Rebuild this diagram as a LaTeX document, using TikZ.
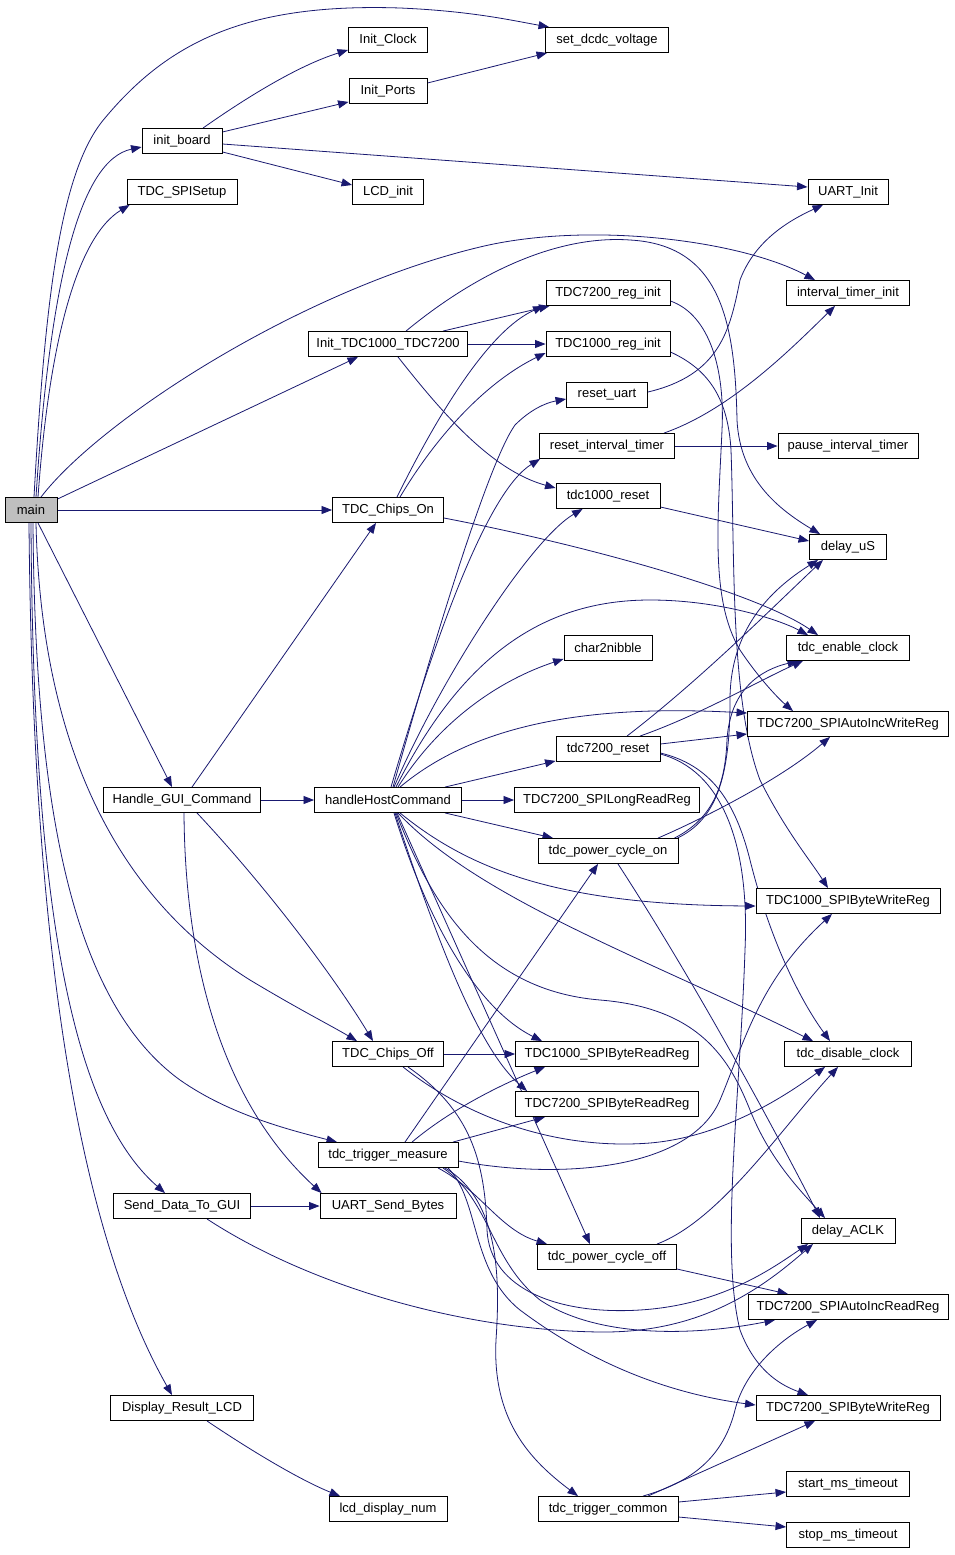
\documentclass[tikz,border=0pt]{standalone}
\usepackage{fontspec}
\setmainfont{Liberation Sans}
\usetikzlibrary{arrows.meta,calc}
\definecolor{edgec}{HTML}{191970}
\definecolor{mgray}{HTML}{BFBFBF}
\pgfdeclarelayer{bg}
\pgfsetlayers{bg,main}
\begin{document}
\begin{tikzpicture}[x=1pt,y=-1pt,
  box/.style={draw=black,fill=white,line width=0.9pt,minimum height=25pt,inner sep=0pt,font=\fontsize{13}{15}\selectfont},
  e/.style={draw=edgec,line width=0.8pt,-{Triangle[length=10.5pt,width=8pt]}}]
\useasboundingbox (0,0) rectangle (955,1555);
\node[box,minimum width=52pt,fill=mgray] (mainfn) at (31,510) {main};
\node[box,minimum width=80pt] (initboard) at (182,141) {init\_board};
\node[box,minimum width=110pt] (spisetup) at (182,192) {TDC\_SPISetup};
\node[box,minimum width=79pt] (initclock) at (388,40) {Init\_Clock};
\node[box,minimum width=78pt] (initports) at (388,91) {Init\_Ports};
\node[box,minimum width=71pt] (lcdinit) at (388,192) {LCD\_init};
\node[box,minimum width=123pt] (dcdc) at (607,40) {set\_dcdc\_voltage};
\node[box,minimum width=80pt] (uartinit) at (848,192) {UART\_Init};
\node[box,minimum width=123pt] (itinit) at (848,293) {interval\_timer\_init};
\node[box,minimum width=159pt] (inittdc) at (388,344) {Init\_TDC1000\_TDC7200};
\node[box,minimum width=124pt] (r7200init) at (608,293) {TDC7200\_reg\_init};
\node[box,minimum width=124pt] (r1000init) at (608,344) {TDC1000\_reg\_init};
\node[box,minimum width=81pt] (resetuart) at (607,395) {reset\_uart};
\node[box,minimum width=135pt] (resetit) at (607,446) {reset\_interval\_timer};
\node[box,minimum width=140pt] (pauseit) at (848,446) {pause\_interval\_timer};
\node[box,minimum width=104pt] (t1000reset) at (608,496) {tdc1000\_reset};
\node[box,minimum width=111pt] (chipson) at (388,510) {TDC\_Chips\_On};
\node[box,minimum width=77pt] (delayus) at (848,547) {delay\_uS};
\node[box,minimum width=88pt] (char2nibble) at (608,648) {char2nibble};
\node[box,minimum width=123pt] (enclk) at (848,648) {tdc\_enable\_clock};
\node[box,minimum width=201pt] (aiwr) at (848,724) {TDC7200\_SPIAutoIncWriteReg};
\node[box,minimum width=104pt] (t7200reset) at (608,749) {tdc7200\_reset};
\node[box,minimum width=157pt] (hgui) at (182,800) {Handle\_GUI\_Command};
\node[box,minimum width=147pt] (hhc) at (388,800) {handleHostCommand};
\node[box,minimum width=185pt] (lrr) at (607,800) {TDC7200\_SPILongReadReg};
\node[box,minimum width=140pt] (pcon) at (608,851) {tdc\_power\_cycle\_on};
\node[box,minimum width=184pt] (bwr1000) at (848,901) {TDC1000\_SPIByteWriteReg};
\node[box,minimum width=111pt] (chipsoff) at (388,1054) {TDC\_Chips\_Off};
\node[box,minimum width=183pt] (brr1000) at (607,1054) {TDC1000\_SPIByteReadReg};
\node[box,minimum width=127pt] (disclk) at (848,1054) {tdc\_disable\_clock};
\node[box,minimum width=183pt] (brr7200) at (607,1104) {TDC7200\_SPIByteReadReg};
\node[box,minimum width=140pt] (trigmeas) at (388,1155) {tdc\_trigger\_measure};
\node[box,minimum width=137pt] (senddata) at (182,1206) {Send\_Data\_To\_GUI};
\node[box,minimum width=136pt] (uartsend) at (388,1206) {UART\_Send\_Bytes};
\node[box,minimum width=94pt] (delayaclk) at (848,1231) {delay\_ACLK};
\node[box,minimum width=139pt] (pcoff) at (607,1257) {tdc\_power\_cycle\_off};
\node[box,minimum width=200pt] (airr) at (848,1307) {TDC7200\_SPIAutoIncReadReg};
\node[box,minimum width=184pt] (bwr7200) at (848,1408) {TDC7200\_SPIByteWriteReg};
\node[box,minimum width=143pt] (display) at (182,1408) {Display\_Result\_LCD};
\node[box,minimum width=118pt] (lcdnum) at (388,1509) {lcd\_display\_num};
\node[box,minimum width=123pt] (startms) at (848,1484) {start\_ms\_timeout};
\node[box,minimum width=123pt] (stopms) at (848,1535) {stop\_ms\_timeout};
\node[box,minimum width=140pt] (trigcommon) at (608,1509) {tdc\_trigger\_common};
\begin{pgfonlayer}{bg}
\fill[white] (0,0) rectangle (955,1555);
% main
\draw[e] ($(mainfn.north)+(3,0)$) .. controls (45,300) and (60,170) .. (105,118) .. controls (170,40) and (250,3) .. (400,8) .. controls (470,11) and (510,20) .. ($(dcdc.north west)+(4,0)$);
\draw[e] ($(mainfn.north)+(5,0)$) .. controls (50,280) and (80,160) .. ($(initboard.west)+(0,6)$);
\draw[e] ($(mainfn.north)+(7,0)$) .. controls (50,330) and (80,235) .. ($(spisetup.south west)+(3,0)$);
\draw[e] ($(mainfn.north)+(10,0)$) .. controls (100,420) and (300,290) .. (480,247) .. controls (588,221) and (740,240) .. ($(itinit.north)+(-33,0)$);
\draw[e] ($(mainfn.north east)+(0,2)$) -- ($(inittdc.south)+(-30,0)$);
\draw[e] (mainfn.east) -- (chipson.west);
\draw[e] ($(mainfn.south)+(7,0)$) -- ($(hgui.north)+(-10,0)$);
\draw[e] ($(mainfn.south)+(5,0)$) .. controls (40,700) and (90,880) .. (250,980) .. controls (300,1010) and (330,1025) .. ($(chipsoff.north)+(-31,0)$);
\draw[e] ($(mainfn.south)+(2,0)$) .. controls (35,800) and (70,1000) .. (180,1080) .. controls (230,1115) and (290,1130) .. ($(trigmeas.north)+(-51,0)$);
\draw[e] (mainfn.south) .. controls (33,900) and (70,1110) .. ($(senddata.north)+(-17,0)$);
\draw[e] ($(mainfn.south)+(-2,0)$) .. controls (33,1000) and (90,1250) .. ($(display.north)+(-10,0)$);
% init_board
\draw[e] ($(initboard.north)+(21,0)$) .. controls (250,95) and (300,65) .. ($(initclock.south west)+(0,-3)$);
\draw[e] ($(initboard.east)+(0,-9)$) -- ($(initports.south west)+(0,-2)$);
\draw[e] ($(initboard.east)+(0,3)$) -- ($(uartinit.west)+(0,-5)$);
\draw[e] ($(initboard.south east)+(0,-2)$) -- ($(lcdinit.west)+(0,-7)$);
\draw[e] ($(initports.east)+(0,-8)$) -- ($(dcdc.south west)+(2,0)$);
% Init_TDC1000_TDC7200
\draw[e] ($(inittdc.north)+(55,0)$) -- ($(r7200init.south west)+(4,0)$);
\draw[e] (inittdc.east) -- (r1000init.west);
\draw[e] ($(inittdc.south)+(10,0)$) .. controls (440,410) and (490,470) .. ($(t1000reset.west)+(0,-8)$);
\draw[e] ($(inittdc.north)+(18,0)$) .. controls (480,270) and (560,235) .. (630,240) .. controls (720,245) and (735,320) .. (737,420) .. controls (740,480) and (780,510) .. ($(delayus.north)+(-28,0)$);
% reg init
\draw[e] ($(r7200init.east)+(0,8)$) .. controls (710,315) and (725,370) .. (722,430) .. controls (718,520) and (710,600) .. (740,650) .. controls (760,680) and (780,700) .. ($(aiwr.north)+(-55,0)$);
\draw[e] ($(r1000init.east)+(0,8)$) .. controls (710,370) and (728,400) .. (731,450) .. controls (735,560) and (730,700) .. (760,780) .. controls (785,830) and (810,860) .. ($(bwr1000.north)+(-20,0)$);
% reset_uart, reset_interval_timer, tdc1000_reset
\draw[e] ($(resetuart.east)+(0,-3)$) .. controls (720,375) and (730,330) .. (740,280) .. controls (755,240) and (790,220) .. ($(uartinit.south)+(-25,0)$);
\draw[e] ($(resetit.north)+(57,0)$) .. controls (730,410) and (790,350) .. ($(itinit.south)+(-13,0)$);
\draw[e] (resetit.east) -- (pauseit.west);
\draw[e] ($(t1000reset.east)+(0,11)$) -- ($(delayus.west)+(0,-6)$);
% TDC_Chips_On
\draw[e] ($(chipson.north)+(9,0)$) .. controls (440,410) and (490,330) .. ($(r7200init.south west)+(-2,0)$);
\draw[e] ($(chipson.north)+(12,0)$) .. controls (440,430) and (490,380) .. ($(r1000init.west)+(0,9)$);
\draw[e] ($(chipson.east)+(0,8)$) .. controls (600,548) and (760,595) .. ($(enclk.north)+(-30,0)$);
% Handle_GUI_Command
\draw[e] ($(hgui.north)+(10,0)$) -- ($(chipson.south)+(-12,0)$);
\draw[e] (hgui.east) -- (hhc.west);
\draw[e] ($(hgui.south)+(15,0)$) .. controls (260,880) and (330,970) .. ($(chipsoff.north)+(-15,0)$);
\draw[e] ($(hgui.south)+(2,0)$) .. controls (185,960) and (220,1100) .. ($(uartsend.north west)+(2,0)$);
% handleHostCommand
\draw[e] ($(hhc.north)+(5,0)$) .. controls (440,620) and (490,460) .. (515,425) .. controls (530,410) and (545,403) .. ($(resetuart.west)+(0,4)$);
\draw[e] ($(hhc.north)+(3,0)$) .. controls (440,620) and (490,490) .. ($(resetit.south west)+(1,0)$);
\draw[e] ($(hhc.north)+(6,0)$) .. controls (440,680) and (530,540) .. ($(t1000reset.south west)+(27,0)$);
\draw[e] ($(hhc.north)+(8,0)$) .. controls (460,660) and (540,600) .. (650,600) .. controls (720,600) and (780,620) .. ($(enclk.north)+(-40,0)$);
\draw[e] ($(hhc.north)+(10,0)$) .. controls (440,720) and (500,680) .. ($(char2nibble.south west)+(0,-2)$);
\draw[e] ($(hhc.north)+(12,0)$) .. controls (480,720) and (600,705) .. ($(aiwr.west)+(0,-11)$);
\draw[e] ($(hhc.north)+(57,0)$) -- ($(t7200reset.south west)+(0,-1)$);
\draw[e] (hhc.east) -- (lrr.west);
\draw[e] ($(hhc.south)+(57,0)$) -- ($(pcon.north)+(-55,0)$);
\draw[e] ($(hhc.south)+(12,0)$) .. controls (470,870) and (560,905) .. ($(bwr1000.west)+(0,5)$);
\draw[e] ($(hhc.south)+(10,0)$) .. controls (480,900) and (650,960) .. ($(disclk.north)+(-35,0)$);
\draw[e] ($(hhc.south)+(8,0)$) .. controls (430,900) and (480,990) .. (600,1000) .. controls (700,1008) and (730,1060) .. (750,1110) .. controls (770,1160) and (800,1190) .. ($(delayaclk.north)+(-23,0)$);
\draw[e] ($(hhc.south)+(6,0)$) .. controls (430,930) and (480,1010) .. ($(brr1000.north)+(-65,0)$);
\draw[e] ($(hhc.south)+(7,0)$) .. controls (440,950) and (480,1050) .. ($(brr7200.north west)+(12,0)$);
\draw[e] ($(hhc.south)+(9,0)$) -- ($(pcoff.north)+(-17,0)$);
% tdc7200_reset
\draw[e] ($(t7200reset.north)+(19,0)$) .. controls (700,680) and (770,610) .. ($(delayus.south)+(-25,0)$);
\draw[e] ($(t7200reset.north)+(32,0)$) .. controls (700,715) and (760,680) .. ($(enclk.south)+(-45,0)$);
\draw[e] ($(t7200reset.east)+(0,-5)$) -- ($(aiwr.west)+(0,10)$);
\draw[e] ($(t7200reset.east)+(0,4)$) .. controls (710,765) and (735,800) .. (750,860) .. controls (770,940) and (800,1000) .. ($(disclk.north)+(-18,0)$);
\draw[e] ($(t7200reset.east)+(0,5)$) .. controls (720,770) and (750,840) .. (745,950) .. controls (740,1100) and (720,1250) .. (740,1330) .. controls (755,1370) and (780,1385) .. ($(bwr7200.north)+(-40,0)$);
% tdc_power_cycle_on
\draw[e] ($(pcon.north east)+(-1,0)$) .. controls (715,820) and (730,780) .. (730,700) .. controls (730,630) and (770,590) .. ($(delayus.south)+(-30,0)$);
\draw[e] ($(pcon.north east)+(-4,0)$) .. controls (710,820) and (725,790) .. (727,740) .. controls (730,690) and (760,670) .. ($(enclk.south)+(-50,0)$);
\draw[e] ($(pcon.north)+(50,0)$) .. controls (700,820) and (780,780) .. ($(aiwr.south)+(-18,0)$);
\draw[e] ($(pcon.south)+(10,0)$) .. controls (700,990) and (780,1140) .. ($(delayaclk.north)+(-28,0)$);
% tdc_power_cycle_off
\draw[e] ($(pcoff.north)+(50,0)$) .. controls (720,1220) and (780,1130) .. ($(disclk.south)+(-10,0)$);
\draw[e] ($(pcoff.east)+(0,12)$) -- ($(airr.north)+(-60,0)$);
% TDC_Chips_Off
\draw[e] (chipsoff.east) -- (brr1000.west);
\draw[e] ($(chipsoff.south)+(15,0)$) .. controls (470,1120) and (560,1150) .. (650,1143) .. controls (720,1137) and (780,1100) .. ($(disclk.south)+(-23,0)$);
\draw[e] ($(chipsoff.south)+(20,0)$) .. controls (470,1110) and (485,1160) .. (487,1230) .. controls (490,1290) and (560,1315) .. (640,1310) .. controls (720,1305) and (770,1270) .. ($(delayaclk.south)+(-40,0)$);
% tdc_trigger_measure
\draw[e] ($(trigmeas.north)+(17,0)$) -- ($(pcon.south)+(-10,0)$);
\draw[e] ($(trigmeas.north)+(24,0)$) .. controls (450,1110) and (500,1085) .. ($(brr1000.south)+(-62,0)$);
\draw[e] ($(trigmeas.north)+(65,0)$) -- ($(brr7200.south)+(-62,0)$);
\draw[e] ($(trigmeas.east)+(0,6)$) .. controls (560,1180) and (690,1170) .. (720,1100) .. controls (745,1040) and (760,980) .. ($(bwr1000.south)+(-16,0)$);
\draw[e] ($(trigmeas.south)+(50,0)$) .. controls (480,1190) and (500,1230) .. ($(pcoff.north west)+(10,0)$);
\draw[e] ($(trigmeas.south)+(57,0)$) .. controls (500,1200) and (500,1280) .. (496,1340) .. controls (492,1420) and (530,1460) .. ($(trigcommon.north)+(-30,0)$);
\draw[e] ($(trigmeas.south)+(60,0)$) .. controls (480,1200) and (470,1270) .. (520,1310) .. controls (600,1370) and (680,1395) .. ($(bwr7200.west)+(0,-3)$);
\draw[e] ($(trigmeas.south)+(55,0)$) .. controls (490,1200) and (490,1260) .. (540,1300) .. controls (600,1340) and (700,1335) .. ($(airr.south)+(-73,0)$);
% Send_Data_To_GUI
\draw[e] (senddata.east) -- (uartsend.west);
\draw[e] ($(senddata.south)+(25,0)$) .. controls (300,1280) and (450,1330) .. (600,1332) .. controls (700,1333) and (760,1290) .. ($(delayaclk.south)+(-35,0)$);
% Display_Result_LCD
\draw[e] ($(display.south)+(25,0)$) .. controls (250,1450) and (300,1480) .. ($(lcdnum.north)+(-48,0)$);
% tdc_trigger_common
\draw[e] ($(trigcommon.north)+(35,0)$) .. controls (700,1480) and (725,1450) .. (735,1410) .. controls (745,1370) and (780,1340) .. ($(airr.south)+(-31,0)$);
\draw[e] ($(trigcommon.north)+(40,0)$) -- ($(bwr7200.south)+(-33,0)$);
\draw[e] ($(trigcommon.east)+(0,-7)$) -- ($(startms.west)+(0,8)$);
\draw[e] ($(trigcommon.east)+(0,8)$) -- ($(stopms.west)+(0,-8)$);
\end{pgfonlayer}
\end{tikzpicture}
\end{document}
